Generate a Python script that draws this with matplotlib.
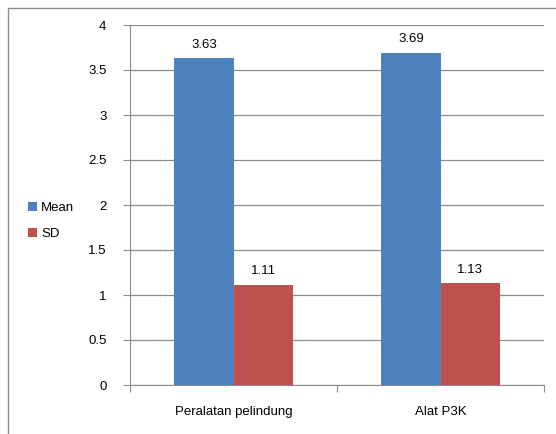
import matplotlib
matplotlib.use("Agg")
import matplotlib.pyplot as plt
from matplotlib.patches import Rectangle
import numpy as np

plt.rcParams['font.family'] = ['Liberation Sans', 'DejaVu Sans']

categories = ["Peralatan pelindung", "Alat P3K"]
series_names = ["Mean", "SD"]
mean_vals = [3.63, 3.69]
sd_vals = [1.11, 1.13]
colors = ["#4F81BD", "#C0504D"]
yticks = [0, 0.5, 1, 1.5, 2, 2.5, 3, 3.5, 4]
ytick_labels = ["0", "0.5", "1", "1.5", "2", "2.5", "3", "3.5", "4"]

fig = plt.figure(figsize=(5.56, 4.34), dpi=100)
fig.patches.append(Rectangle((8/556, -0.05), 1.0, 1 - 8/434 + 0.05,
                             transform=fig.transFigure, fill=False,
                             edgecolor="#8c8c8c", linewidth=1.0))
ax = fig.add_axes([130/556, 1 - 385/434, (544 - 130)/556, (385 - 25)/434])

x = np.arange(len(categories))
w = 1 / 3.5
data = [mean_vals, sd_vals]
for i, (name, vals, c) in enumerate(zip(series_names, data, colors)):
    pos = x + (i - 0.5) * w
    bars = ax.bar(pos, vals, width=w, color=c, label=name, zorder=3)
    for p, v in zip(pos, vals):
        ax.annotate(f"{v:.2f}", (p, v), xytext=(0, 5.5), textcoords="offset points",
                    ha="center", va="bottom", fontsize=9.5, color="black")

ax.set_xlim(-0.5, 1.5)
ax.set_ylim(0, 4)
ax.set_yticks(yticks)
ax.set_yticklabels(ytick_labels, fontsize=9.5)
ax.set_xticks([-0.5, 0.5, 1.5], minor=False)
ax.set_xticklabels([])
ax.set_xticks(x, minor=True)
ax.set_xticklabels(categories, minor=True, fontsize=9.5)
ax.tick_params(axis="x", which="minor", length=0, pad=15)
ax.tick_params(axis="x", which="major", length=5, color="#8c8c8c", direction="out")
ax.tick_params(axis="y", length=5, color="#8c8c8c", direction="out", pad=12)
ax.grid(axis="y", color="#8c8c8c", linewidth=0.9, zorder=0)
for s in ["top", "right"]:
    ax.spines[s].set_visible(False)
for s in ["left", "bottom"]:
    ax.spines[s].set_color("#8c8c8c")

handles, labels = ax.get_legend_handles_labels()
fig.legend(handles, labels, loc="center left", bbox_to_anchor=(16/556, 1 - 221/434),
           frameon=False, fontsize=9.5, handlelength=0.7, handleheight=0.7,
           handletextpad=0.3, labelspacing=1.1)

fig.savefig("out.png", dpi=100)
